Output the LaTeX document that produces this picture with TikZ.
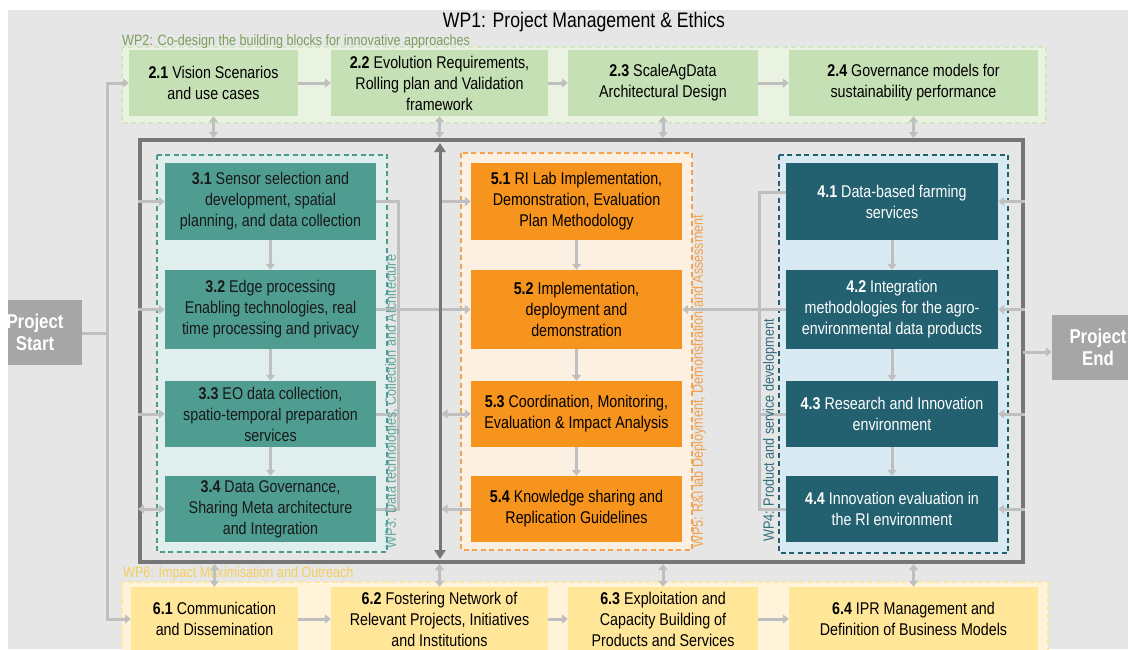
\documentclass[tikz,border=0pt]{standalone}
\usepackage{fontspec}
\setmainfont[FakeStretch=0.84]{Liberation Sans}
\usetikzlibrary{arrows.meta}

\definecolor{bg}{HTML}{E6E6E6}
\definecolor{wptwofill}{HTML}{EAF2E2}
\definecolor{wptwoline}{HTML}{D3E6C4}
\definecolor{wptwobox}{HTML}{C5E0B4}
\definecolor{wptwolab}{HTML}{7BA05B}
\definecolor{wpthreefill}{HTML}{E0EFEE}
\definecolor{wpthreeline}{HTML}{4D9A8F}
\definecolor{wpthreebox}{HTML}{4F9D91}
\definecolor{wpthreelab}{HTML}{5FA9A0}
\definecolor{wpfivefill}{HTML}{FCF0E2}
\definecolor{wpfiveline}{HTML}{F5A04A}
\definecolor{wpfivebox}{HTML}{F7941D}
\definecolor{wpfivelab}{HTML}{F5A04A}
\definecolor{wpfourfill}{HTML}{D9EAF2}
\definecolor{wpfourline}{HTML}{236170}
\definecolor{wpfourbox}{HTML}{236170}
\definecolor{wpfourlab}{HTML}{2F6E7C}
\definecolor{wpsixfill}{HTML}{FFF4D9}
\definecolor{wpsixline}{HTML}{FCE6A4}
\definecolor{wpsixbox}{HTML}{FFE699}
\definecolor{wpsixlab}{HTML}{F5CF5A}
\definecolor{projgray}{HTML}{A6A6A6}
\definecolor{framegray}{HTML}{767676}
\definecolor{conngray}{HTML}{BFBFBF}

\tikzset{
  task/.style={rectangle, inner sep=0pt, align=center,
    font=\fontsize{17}{21}\selectfont, text=black},
  greentask/.style={task, fill=wptwobox},
  tealtask/.style={task, fill=wpthreebox, text=black!90},
  orangetask/.style={task, fill=wpfivebox},
  bluetask/.style={task, fill=wpfourbox, text=white},
  yellowtask/.style={task, fill=wpsixbox},
  group/.style={dash pattern=on 5pt off 3.5pt, line width=1.3pt},
  grouplabel/.style={inner sep=0pt, font=\fontsize{15}{15}\selectfont},
  vlabel/.style={grouplabel, rotate=90, anchor=west},
  projbox/.style={rectangle, fill=projgray, inner sep=0pt, align=center,
    text=white, font=\fontsize{20}{22}\selectfont\bfseries},
  conn/.style={draw=conngray, line width=3pt},
  arr/.style={conn, -{Triangle[length=6pt,width=9pt]}},
  darr/.style={conn, {Triangle[length=6pt,width=9pt]}-{Triangle[length=6pt,width=9pt]}},
  darkarr/.style={draw=framegray, line width=3pt,
    {Triangle[length=9pt,width=11pt]}-{Triangle[length=9pt,width=11pt]}},
}

\begin{document}
\begin{tikzpicture}[x=1pt,y=-1pt]
\useasboundingbox (0,0) rectangle (1128,649);
\clip (0,0) rectangle (1128,649);
\fill[white] (0,0) rectangle (1128,649);
\fill[bg] (8,10) rectangle (1128,649);

% title
\node[font=\fontsize{21}{21}\selectfont] (title) at (584,22) {WP1: Project Management \& Ethics};

% work-package frames
\draw[group, draw=wptwoline, fill=wptwofill] (122,47) rectangle (1046,123);
\draw[group, draw=wpsixline, fill=wpsixfill] (122,582) rectangle (1048,660);
\node[grouplabel, anchor=base west, text=wptwolab] (l2) at (122,45)
  {WP2: Co-design the building blocks for innovative approaches};
\node[grouplabel, anchor=base west, text=wpsixlab] (l6) at (123,577)
  {WP6: Impact Maximisation and Outreach};

% central frame
\node[draw=framegray, line width=4pt, minimum width=883pt, minimum height=422pt,
  inner sep=0pt] (frame) at (581.5,351) {};

\draw[group, draw=wpthreeline, fill=wpthreefill] (157,155) rectangle (387,552);
\draw[group, draw=wpfiveline, fill=wpfivefill] (461,153) rectangle (692,550);
\draw[group, draw=wpfourline, fill=wpfourfill] (779,155) rectangle (1008,553);

% WP2 tasks
\node[greentask, minimum width=169pt, minimum height=66pt] (b21) at (213.5,83)
  {\textbf{2.1} Vision Scenarios\\and use cases};
\node[greentask, minimum width=217pt, minimum height=66pt] (b22) at (439.5,83)
  {\textbf{2.2} Evolution Requirements,\\Rolling plan and Validation\\framework};
\node[greentask, minimum width=190pt, minimum height=66pt] (b23) at (663,83)
  {\textbf{2.3} ScaleAgData\\Architectural Design};
\node[greentask, minimum width=249pt, minimum height=66pt] (b24) at (913.5,83)
  {\textbf{2.4} Governance models for\\sustainability performance};

% WP3 tasks
\node[tealtask, minimum width=211pt, minimum height=77pt] (b31) at (270.5,201.5)
  {\textbf{3.1} Sensor selection and\\development, spatial\\planning, and data collection};
\node[tealtask, minimum width=211pt, minimum height=79pt] (b32) at (270.5,309.5)
  {\textbf{3.2} Edge processing\\Enabling technologies, real\\time processing and privacy};
\node[tealtask, minimum width=211pt, minimum height=66pt] (b33) at (270.5,414)
  {\textbf{3.3} EO data collection,\\spatio-temporal preparation\\services};
\node[tealtask, minimum width=211pt, minimum height=66pt] (b34) at (270.5,509)
  {\textbf{3.4} Data Governance,\\Sharing Meta architecture\\and Integration};

% WP5 tasks
\node[orangetask, minimum width=211pt, minimum height=77pt] (b51) at (576.5,201.5)
  {\textbf{5.1} RI Lab Implementation,\\Demonstration, Evaluation\\Plan Methodology};
\node[orangetask, minimum width=211pt, minimum height=79pt] (b52) at (576.5,309.5)
  {\textbf{5.2} Implementation,\\deployment and\\demonstration};
\node[orangetask, minimum width=211pt, minimum height=66pt] (b53) at (576.5,414)
  {\textbf{5.3} Coordination, Monitoring,\\Evaluation \& Impact Analysis};
\node[orangetask, minimum width=211pt, minimum height=66pt] (b54) at (576.5,509)
  {\textbf{5.4} Knowledge sharing and\\Replication Guidelines};

% WP4 tasks
\node[bluetask, minimum width=212pt, minimum height=77pt] (b41) at (892,201.5)
  {\textbf{4.1} Data-based farming\\services};
\node[bluetask, minimum width=212pt, minimum height=79pt] (b42) at (892,309.5)
  {\textbf{4.2} Integration\\methodologies for the agro-\\environmental data products};
\node[bluetask, minimum width=212pt, minimum height=66pt] (b43) at (892,414)
  {\textbf{4.3} Research and Innovation\\environment};
\node[bluetask, minimum width=212pt, minimum height=66pt] (b44) at (892,509)
  {\textbf{4.4} Innovation evaluation in\\the RI environment};

% WP6 tasks
\node[yellowtask, minimum width=167pt, minimum height=64pt] (b61) at (214.5,619)
  {\textbf{6.1} Communication\\and Dissemination};
\node[yellowtask, minimum width=217pt, minimum height=64pt] (b62) at (439.5,619)
  {\textbf{6.2} Fostering Network of\\Relevant Projects, Initiatives\\and Institutions};
\node[yellowtask, minimum width=190pt, minimum height=64pt] (b63) at (663,619)
  {\textbf{6.3} Exploitation and\\Capacity Building of\\Products and Services};
\node[yellowtask, minimum width=249pt, minimum height=64pt] (b64) at (913.5,619)
  {\textbf{6.4} IPR Management and\\Definition of Business Models};

% project start / end
\begin{scope}
\clip (8,0) rectangle (1128,649);
\node[projbox, minimum width=94pt, minimum height=65pt] (start) at (35,332.5)
  {Project\\Start};
\node[projbox, minimum width=92pt, minimum height=65pt] (finish) at (1098,347.5)
  {Project\\End};
\end{scope}

% connector buses
\coordinate (busL) at (107,333);
\coordinate (bus3) at (398,201.5);
\coordinate (bus4) at (759,192);
\coordinate (vt) at (440,143);
\coordinate (vb) at (440,559);
\coordinate (toend) at (1023,352);

% from project start
\draw[conn] (start.east |- busL) -- (busL);
\draw[arr] (busL) |- (b21.west);
\draw[arr] (busL) |- (b61.west);

% WP2 and WP6 chains
\draw[arr] (b21) -- (b22);
\draw[arr] (b22) -- (b23);
\draw[arr] (b23) -- (b24);
\draw[arr] (b61) -- (b62);
\draw[arr] (b62) -- (b63);
\draw[arr] (b63) -- (b64);

% links between WP2 / WP6 and the central frame
\foreach \b in {b21,b22,b23,b24}
  \draw[darr] (\b.south) -- (\b.south |- frame.north);
\foreach \b in {b61,b62,b63,b64}
  \draw[darr] (\b.north |- frame.south) -- (\b.north);

% vertical chains
\draw[arr] (b31) -- (b32);
\draw[arr] (b32) -- (b33);
\draw[arr] (b33) -- (b34);
\draw[arr] (b51) -- (b52);
\draw[arr] (b52) -- (b53);
\draw[arr] (b53) -- (b54);
\draw[arr] (b41) -- (b42);
\draw[arr] (b42) -- (b43);
\draw[arr] (b43) -- (b44);

% frame into WP3
\draw[arr] (frame.west |- b31.west) -- (b31.west);
\draw[arr] (frame.west |- b32.west) -- (b32.west);
\draw[arr] (frame.west |- b33.west) -- (b33.west);
\draw[darr] (frame.west |- b34.west) -- (b34.west);

% WP3 collector to WP5
\draw[conn] (b31.east) -| (bus3 |- b34.east) -- (b34.east);
\draw[conn] (b33.east) -- (bus3 |- b33.east);
\draw[arr] (b32.east) -- (b52.west);

% WP4 collector to WP5
\draw[conn] (b41.west |- bus4) -- (bus4) -- (bus4 |- b44.west) -- (b44.west);
\draw[conn] (b43.west) -- (bus4 |- b43.west);
\draw[arr] (b42.west) -- (b52.east);

% frame into WP4
\draw[arr] (frame.east |- b41.east) -- (b41.east);
\draw[arr] (frame.east |- b42.east) -- (b42.east);
\draw[arr] (frame.east |- b43.east) -- (b43.east);
\draw[arr] (frame.east |- b44.east) -- (b44.east);

% central timeline and its links to WP5
\draw[darkarr] (vb) -- (vt);
\draw[arr, shorten <=1.5pt] (vt |- b51.west) -- (b51.west);
\draw[darr, shorten <=1.5pt] (vt |- b53.west) -- (b53.west);
\draw[arr, shorten >=1.5pt] (b54.west) -- (vt |- b54.west);

% towards project end
\draw[arr] (toend) -- (finish.west |- toend);

% rotated work-package labels
\node[vlabel, text=wpthreelab] (l3) at (392,549)
  {WP3: Data technologies, Collection and Architecture};
\node[vlabel, text=wpfivelab] (l5) at (699,548)
  {WP5: R\&I lab Deployment, Demonstration and Assessment};
\node[vlabel, text=wpfourlab] (l4) at (770,542)
  {WP4: Product and service development};
\end{tikzpicture}
\end{document}
